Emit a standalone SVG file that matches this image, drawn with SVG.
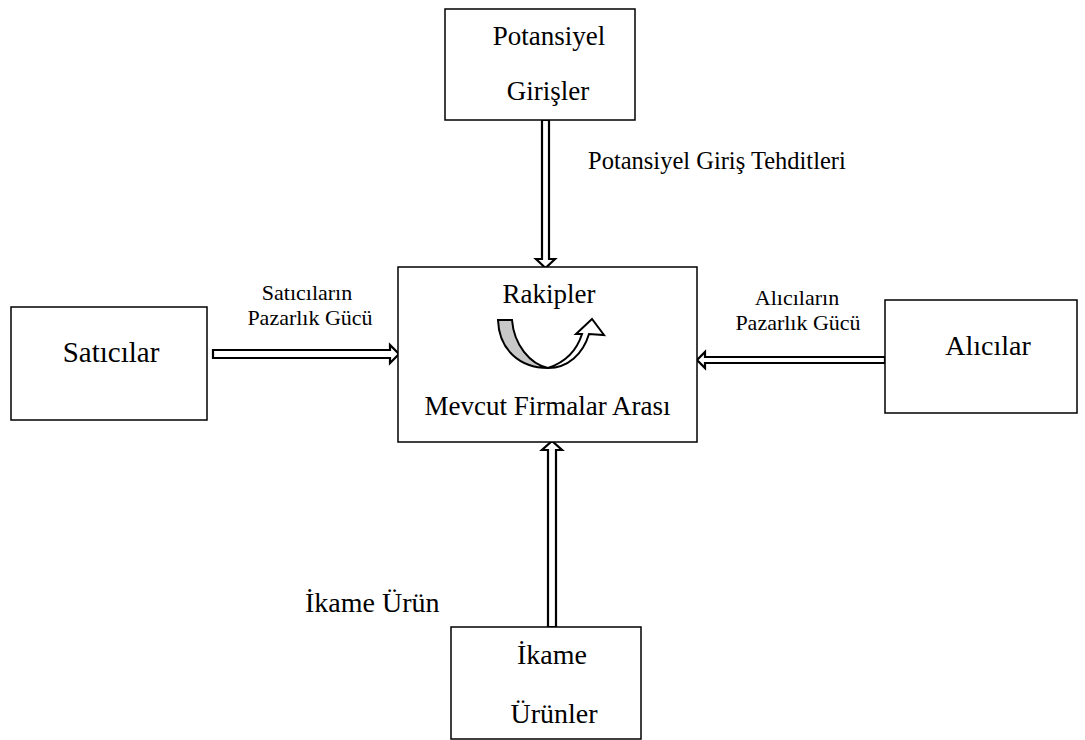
<svg xmlns="http://www.w3.org/2000/svg" width="1085" height="740" viewBox="0 0 1085 740">
<style>
.box{fill:#fff;stroke:#000;stroke-width:1.5}
.t{font-family:"Liberation Serif","Times New Roman",serif;fill:#000}
.big{font-size:27px}
.sm{font-size:22px}
.arr{fill:#fff;stroke:#000;stroke-width:2.2;stroke-linejoin:miter}
</style>
<rect width="1085" height="740" fill="#fff"/>
<g id="connectors">
<polygon class="arr" points="542,120 549,120 549,259 555,259 545.5,268 536,259 542,259"/>
<polygon class="arr" points="548,627 556,627 556,450 562,450 552,441 542,450 548,450"/>
<polygon class="arr" points="213,350 390,350 390,345 399,354 390,363 390,358 213,358"/>
<polygon class="arr" points="885,357 705,357 705,352 697,360 705,368 705,363 885,363"/>
<text class="t" font-size="24.5" x="588" y="169">Potansiyel Giriş Tehditleri</text>
<text class="t sm" x="307" y="300" text-anchor="middle">Satıcıların</text>
<text class="t sm" x="310" y="325" text-anchor="middle">Pazarlık Gücü</text>
<text class="t sm" x="797" y="305" text-anchor="middle">Alıcıların</text>
<text class="t sm" x="798" y="330" text-anchor="middle">Pazarlık Gücü</text>
<text class="t" font-size="28" x="305" y="612">İkame Ürün</text>
</g>
<g id="node-potansiyel">
<rect class="box" x="445" y="9" width="190" height="111"/>
<text class="t big" x="549" y="45" text-anchor="middle">Potansiyel</text>
<text class="t big" x="548" y="100" text-anchor="middle">Girişler</text>
</g>
<g id="node-rakipler">
<rect class="box" x="398" y="267" width="299" height="175"/>
<text class="t big" x="549" y="303" text-anchor="middle">Rakipler</text>
<text class="t big" x="547.5" y="415" text-anchor="middle">Mevcut Firmalar Arası</text>
<path d="M498,320 L512,320 C514,345 530,364 548,368 C520,368 499,350 498,320 Z" fill="#c8c8c8" stroke="#000" stroke-width="2"/>
<path d="M548,368 C568,368 583,354 589,334 L604,335 L592,319 L576,334 L582,334 C577,350 566,362 548,368 Z" fill="#fff" stroke="#000" stroke-width="2" stroke-linejoin="miter"/>
</g>
<g id="node-saticilar">
<rect class="box" x="11" y="307" width="196" height="113"/>
<text class="t" font-size="29" x="111" y="362" text-anchor="middle">Satıcılar</text>
</g>
<g id="node-alicilar">
<rect class="box" x="885" y="300" width="192" height="113"/>
<text class="t" font-size="28" x="988" y="355" text-anchor="middle">Alıcılar</text>
</g>
<g id="node-ikame">
<rect class="box" x="451" y="627" width="190" height="112"/>
<text class="t" font-size="28" x="552" y="664" text-anchor="middle">İkame</text>
<text class="t" font-size="28" x="554" y="723" text-anchor="middle">Ürünler</text>
</g>
</svg>
